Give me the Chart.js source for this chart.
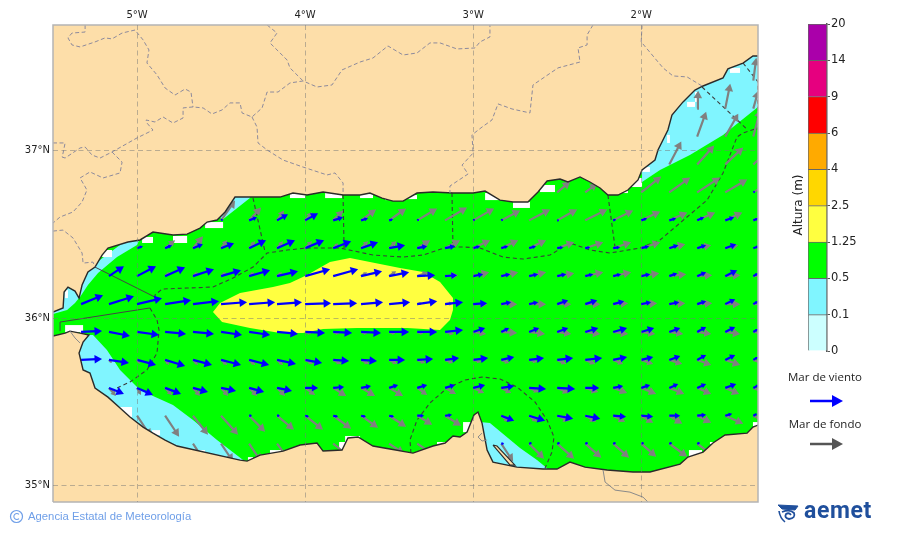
<!DOCTYPE html>
<html><head><meta charset="utf-8">
<style>
html,body{margin:0;padding:0;background:#fff;width:900px;height:533px;overflow:hidden}
#map{position:absolute;left:0;top:0}
#bar{position:absolute;left:780px;top:10px}
.t{position:absolute;white-space:nowrap}
</style>
<script src="https://cdn.jsdelivr.net/npm/chart.js@4"></script>
</head><body>
<canvas id="map" width="900" height="533"></canvas>
<canvas id="bar" width="120" height="350"></canvas>
<div class="t" style="left:798px;top:205px;transform:translate(-50%,-50%) rotate(-90deg);font:12px 'DejaVu Sans';color:#222">Altura (m)</div>
<div class="t" style="left:825px;top:376px;transform:translate(-50%,-50%);font:11.5px 'Open Sans';color:#222">Mar de viento</div>
<div class="t" style="left:825px;top:423px;transform:translate(-50%,-50%);font:11.5px 'Open Sans';color:#222">Mar de fondo</div>
<svg class="t" style="left:805px;top:390px" width="45" height="65">
<line x1="5" y1="11" x2="30" y2="11" stroke="#0000ff" stroke-width="2.5"/><polygon points="27,5 38,11 27,17" fill="#0000ff"/>
<line x1="5" y1="54" x2="30" y2="54" stroke="#555" stroke-width="2.5"/><polygon points="27,48 38,54 27,60" fill="#555"/>
</svg>
<svg class="t" style="left:9px;top:509px" width="16" height="16"><circle cx="7.5" cy="7.5" r="6" fill="none" stroke="#6f9fe8" stroke-width="1.2"/><path d="M10 5.4 A3 3 0 1 0 10 9.6" fill="none" stroke="#6f9fe8" stroke-width="1.1"/></svg>
<div class="t" style="left:28px;top:510px;font:11.3px 'Liberation Sans';color:#6f9fe8">Agencia Estatal de Meteorología</div>
<svg class="t" style="left:776px;top:501px" width="26" height="24" fill="none" stroke="#1f4f9c"><path d="M2 4 L22 5 L19 9 L6 8Z" fill="#1f4f9c"/><path d="M6 11 Q14 8 18 12 Q20 17 13 18 Q8 17 10 13 Q13 11 15 14" stroke-width="1.8"/><path d="M3 10 Q4 17 9 21" stroke-width="1.6"/></svg>
<div class="t" style="left:804px;top:497px;font:bold 23px 'Roboto';color:#1f4f9c;letter-spacing:.6px">aemet</div>
<script>
const COL={land:'#FDDEA9',sea:'#00FF00',low:'#80F5FF',mid:'#FFFF40',white:'#FFFFFF',wind:'#0000FF',swell:'#808080'};
const lonMin=-5.5,lonMax=-1.305,latMin=34.902,latMax=37.749;
const lonTicks=[-5,-4,-3,-2];
const latTicks=[35,36,37];

const coastNorth=[[-5.5,36.036],[-5.44,36.06],[-5.434,36.155],[-5.411,36.185],[-5.369,36.161],[-5.345,36.119],[-5.327,36.197],[-5.292,36.275],[-5.25,36.304],[-5.208,36.376],[-5.173,36.418],[-5.054,36.454],[-4.982,36.466],[-4.905,36.513],[-4.786,36.496],[-4.702,36.501],[-4.625,36.537],[-4.583,36.573],[-4.524,36.585],[-4.476,36.633],[-4.417,36.722],[-4.31,36.722],[-4.149,36.722],[-4.072,36.746],[-3.988,36.734],[-3.893,36.752],[-3.774,36.734],[-3.673,36.734],[-3.614,36.746],[-3.542,36.716],[-3.477,36.698],[-3.417,36.698],[-3.334,36.746],[-3.239,36.752],[-3.12,36.746],[-3,36.746],[-2.929,36.758],[-2.84,36.704],[-2.763,36.693],[-2.674,36.693],[-2.614,36.752],[-2.56,36.818],[-2.483,36.83],[-2.436,36.812],[-2.364,36.842],[-2.305,36.812],[-2.245,36.776],[-2.198,36.734],[-2.138,36.734],[-2.079,36.764],[-2.019,36.824],[-1.995,36.884],[-1.918,36.943],[-1.9,37.003],[-1.841,37.122],[-1.817,37.212],[-1.751,37.29],[-1.68,37.361],[-1.632,37.385],[-1.513,37.433],[-1.484,37.487],[-1.394,37.522],[-1.335,37.564],[-1.305,37.564]];
const coastSouth=[[-5.5,35.893],[-5.428,35.91],[-5.399,35.922],[-5.339,35.91],[-5.286,35.899],[-5.321,35.857],[-5.345,35.791],[-5.321,35.69],[-5.28,35.672],[-5.25,35.582],[-5.173,35.528],[-5.101,35.463],[-5.042,35.409],[-4.964,35.349],[-4.905,35.313],[-4.833,35.272],[-4.762,35.236],[-4.387,35.152],[-4.345,35.146],[-4.268,35.182],[-4.131,35.206],[-4.03,35.242],[-3.929,35.254],[-3.893,35.206],[-3.78,35.212],[-3.745,35.284],[-3.685,35.29],[-3.596,35.236],[-3.495,35.218],[-3.358,35.194],[-3.239,35.236],[-3.167,35.254],[-3.12,35.296],[-3.078,35.29],[-3.036,35.319],[-2.995,35.421],[-2.971,35.439],[-2.947,35.373],[-2.917,35.212],[-2.882,35.14],[-2.739,35.11],[-2.584,35.099],[-2.501,35.099],[-2.424,35.14],[-2.334,35.11],[-2.203,35.093],[-2.049,35.081],[-1.948,35.081],[-1.769,35.128],[-1.722,35.17],[-1.632,35.2],[-1.573,35.254],[-1.501,35.302],[-1.37,35.313],[-1.335,35.349],[-1.305,35.361]];
const lagoonBar=[[-2.882,35.242],[-2.858,35.236],[-2.751,35.122],[-2.78,35.122]];

const band01a=[[-5.5,36.036],[-5.44,36.06],[-5.434,36.155],[-5.411,36.185],[-5.369,36.161],[-5.345,36.119],[-5.369,36.09],[-5.416,36.048],[-5.5,36.024]];
const band01b=[[-5.339,36.125],[-5.292,36.197],[-5.232,36.269],[-5.119,36.364],[-5,36.436],[-4.95,36.55],[-5.35,36.25]];
const band01c=[[-4.417,36.75],[-4.328,36.75],[-4.328,36.716],[-4.494,36.585],[-4.52,36.62]];
const band01d=[[-5.309,35.899],[-5.262,35.899],[-5.179,35.809],[-5.101,35.69],[-5,35.588],[-4.905,35.534],[-4.786,35.481],[-4.667,35.391],[-4.524,35.272],[-4.369,35.152],[-4.369,35.1],[-5.4,35.1],[-5.4,35.899]];
const band01e=[[-2.959,35.379],[-2.9,35.373],[-2.721,35.224],[-2.62,35.152],[-2.555,35.099],[-2.555,35.06],[-2.958,35.06]];
const band01f=[[-1.995,36.812],[-1.888,36.884],[-1.71,36.973],[-1.513,37.093],[-1.305,37.26],[-1.305,37.7],[-1.995,37.7]];
const band125=[[-4.548,36.036],[-4.506,36.09],[-4.387,36.149],[-4.191,36.185],[-4.09,36.209],[-3.988,36.257],[-3.852,36.334],[-3.733,36.358],[-3.614,36.334],[-3.435,36.299],[-3.298,36.275],[-3.197,36.215],[-3.12,36.119],[-3.12,36.048],[-3.138,35.988],[-3.197,35.928],[-3.393,35.94],[-3.691,35.94],[-3.893,35.934],[-4.012,35.91],[-4.149,35.91],[-4.328,35.94],[-4.494,35.976]];

const blankCells=[[-5.208,36.364,-5.149,36.406],[-4.97,36.448,-4.905,36.484],[-4.786,36.448,-4.702,36.49],[-4.595,36.537,-4.488,36.573],[-4.09,36.716,-4,36.746],[-3.881,36.716,-3.78,36.746],[-3.673,36.716,-3.596,36.74],[-3.524,36.704,-3.483,36.722],[-3.405,36.71,-3.334,36.734],[-2.929,36.704,-2.84,36.746],[-2.763,36.657,-2.662,36.693],[-5.428,35.916,-5.321,35.958],[-5.339,35.881,-5.321,35.928],[-5.101,35.409,-5.03,35.469],[-4.911,35.302,-4.863,35.331],[-4.625,35.194,-4.595,35.212],[-4.34,35.152,-4.31,35.17],[-4.209,35.194,-4.137,35.212],[-3.798,35.218,-3.762,35.26],[-3.762,35.26,-3.673,35.296],[-3.215,35.236,-3.167,35.26],[-3.06,35.319,-3.007,35.379],[-2.602,36.752,-2.513,36.794],[-2.108,36.746,-2.079,36.764],[-2.055,36.782,-1.995,36.836],[-1.995,36.872,-1.948,36.901],[-1.846,37.045,-1.829,37.093],[-1.727,37.26,-1.68,37.29],[-1.68,37.29,-1.668,37.349],[-1.472,37.463,-1.412,37.493],[-1.716,35.17,-1.638,35.212],[-1.591,35.248,-1.573,35.26],[-1.335,35.355,-1.305,35.379],[-5.428,36.119,-5.411,36.167]];

const zoneSolid1=[[-5.25,36.304],[-4.881,36.119]];
const zoneSolid2=[[-5.458,35.922],[-5.458,35.976],[-4.923,36.06]];
const zoneCurveWest=[[-4.923,36.06],[-4.881,35.988],[-4.869,35.928],[-4.881,35.791],[-4.941,35.69],[-5.042,35.618],[-5.173,35.558]];
const zoneLong=[[-4.893,36.119],[-4.893,36.137],[-4.851,36.173],[-4.702,36.179],[-4.548,36.185],[-4.429,36.239],[-4.31,36.304],[-4.226,36.388],[-4.107,36.406],[-3.988,36.418],[-3.792,36.418],[-3.596,36.376],[-3.417,36.364],[-3.298,36.376],[-3.155,36.424],[-3.06,36.424],[-2.959,36.418],[-2.822,36.364],[-2.703,36.352],[-2.543,36.376],[-2.424,36.448],[-2.305,36.406],[-2.186,36.388],[-2.007,36.418],[-1.888,36.466],[-1.727,36.603],[-1.608,36.704],[-1.513,36.866],[-1.43,37.081],[-1.394,37.104],[-1.305,37.134]];
const zoneCross1=[[-4.31,36.716],[-4.238,36.394]];
const zoneCross2=[[-3.774,36.734],[-3.768,36.418]];
const zoneCross3=[[-3.126,36.746],[-3.12,36.424]];
const zoneCross4=[[-2.198,36.734],[-2.156,36.424]];
const zoneCross5=[[-1.638,37.379],[-1.365,37.122]];
const zoneCross6=[[-1.394,37.522],[-1.305,37.409],[-1.31,37.122]];
const zoneMelilla=[[-3.37,35.194],[-3.376,35.272],[-3.334,35.391],[-3.257,35.493],[-3.155,35.582],[-3.048,35.63],[-2.947,35.648],[-2.84,35.636],[-2.739,35.588],[-2.632,35.499],[-2.56,35.391],[-2.519,35.29],[-2.531,35.2],[-2.572,35.104]];

const border1=[[-5.309,37.749],[-5.309,37.707],[-5.387,37.701],[-5.411,37.672],[-5.387,37.63],[-5.339,37.618],[-5.25,37.648],[-5.19,37.672],[-5.149,37.666],[-5.089,37.701],[-5.012,37.719],[-4.964,37.66],[-4.929,37.6],[-4.941,37.522],[-4.881,37.451],[-4.833,37.373],[-4.774,37.331],[-4.714,37.367],[-4.679,37.349],[-4.667,37.26]];
const border2=[[-5.446,36.961],[-5.428,36.955],[-5.339,37.015],[-5.309,37.021],[-5.268,36.973],[-5.22,36.955],[-5.149,36.991],[-5,37.075],[-4.905,37.122],[-4.941,37.164],[-4.946,37.182],[-4.893,37.17],[-4.845,37.2],[-4.786,37.164],[-4.726,37.194],[-4.726,37.254],[-4.667,37.26],[-4.607,37.254],[-4.554,37.218],[-4.494,37.242],[-4.447,37.284],[-4.387,37.284],[-4.375,37.224],[-4.316,37.2],[-4.256,37.254],[-4.226,37.349],[-4.161,37.349],[-4.09,37.403],[-4.012,37.415],[-3.929,37.379],[-3.84,37.391],[-3.78,37.481],[-3.673,37.528],[-3.596,37.552],[-3.507,37.624],[-3.417,37.57],[-3.334,37.582],[-3.257,37.642],[-3.197,37.642],[-3.096,37.606],[-2.989,37.612],[-2.959,37.648],[-2.9,37.678],[-2.9,37.749]];
const border3=[[-4.226,37.749],[-4.167,37.701],[-4.209,37.642],[-4.107,37.54],[-4.09,37.493],[-4.012,37.415]];
const border4=[[-4.316,37.2],[-4.286,37.14],[-4.28,37.045],[-4.226,37.003],[-4.131,36.943],[-4.012,36.901],[-3.869,36.854],[-3.822,36.866],[-3.774,36.806],[-3.774,36.746]];
const border5=[[-5.5,37.045],[-5.476,37.045],[-5.428,37.045],[-5.44,36.985],[-5.446,36.961]];
const border6=[[-5.149,36.991],[-5.089,36.931],[-5.101,36.866],[-5.202,36.836],[-5.28,36.872],[-5.339,36.836],[-5.298,36.764],[-5.327,36.693],[-5.381,36.633],[-5.458,36.603],[-5.5,36.567]];
const border7=[[-5.5,36.519],[-5.44,36.525],[-5.381,36.478],[-5.327,36.388],[-5.321,36.328],[-5.262,36.334],[-5.25,36.304]];
const border8=[[-2.287,37.749],[-2.322,37.69],[-2.322,37.63],[-2.376,37.612],[-2.364,37.528],[-2.495,37.493],[-2.644,37.391],[-2.662,37.224],[-2.769,37.248],[-2.852,37.278],[-2.888,37.182],[-2.947,37.14],[-3.007,37.093],[-3,36.985],[-3.066,36.913],[-3.03,36.86],[-3.138,36.788],[-3.138,36.746]];
const border9=[[-1.995,37.749],[-2,37.648],[-1.87,37.493],[-1.811,37.445],[-1.727,37.439],[-1.638,37.385]];
const thinAlgeria=[[-2.227,35.093],[-2.215,35.021],[-2.156,34.973],[-2.067,34.961],[-1.989,34.931],[-1.96,34.902]];
const thinCeuta=[[-5.399,35.922],[-5.369,35.881],[-5.339,35.851]];
const thinMelilla=[[-2.947,35.313],[-2.971,35.29],[-2.947,35.266],[-2.917,35.272]];

const lonGrid=[-5.333,-5.167,-5,-4.833,-4.667,-4.5,-4.333,-4.167,-4,-3.833,-3.667,-3.5,-3.333,-3.167,-3,-2.833,-2.667,-2.5,-2.333,-2.167,-2,-1.833,-1.667,-1.5,-1.333];
const latGrid=[35.25,35.417,35.583,35.75,35.917,36.083,36.25,36.417,36.583,36.75,36.917,37.083,37.25,37.417];
const ARROW_UNIT=0.00595;

/* each row: [column index in lonGrid, eastward, northward] */
const wind0=[[15,3,0],[16,3,1],[17,3,1],[18,3,1],[19,3,1],[20,3,1],[21,3,1],[22,3,1]];
const wind1=[[6,3,0],[7,3,0],[8,4,-1],[9,5,-1],[10,5,-1],[11,5,-1],[12,7,0],[13,7,1],[15,13,-5],[16,16,-5],[17,16,-3],[18,15,-3],[19,13,-1],[20,12,-1],[21,11,0],[22,9,1],[23,7,2],[24,4,2]];
const wind2=[[1,15,-6],[2,16,-7],[3,16,-6],[4,15,-4],[5,15,-3],[6,15,-4],[7,15,-3],[8,13,0],[9,11,1],[10,10,2],[11,9,3],[12,10,3],[13,10,3],[14,12,3],[15,13,2],[16,17,-1],[17,18,-1],[18,14,0],[19,10,2],[20,9,3],[21,9,4],[22,9,4],[23,11,4],[24,6,3]];
const wind3=[[0,21,1],[1,20,-3],[2,19,-5],[3,20,-6],[4,19,-5],[5,20,-5],[6,20,-5],[7,19,-4],[8,17,-3],[9,16,-1],[10,16,-1],[11,16,0],[12,16,1],[13,14,2],[14,15,2],[15,13,3],[16,15,2],[17,16,2],[18,17,2],[19,14,3],[20,12,3],[21,11,4],[22,9,5],[23,10,5],[24,5,3]];
const wind4=[[0,21,1],[1,21,-4],[2,22,-3],[3,21,-2],[4,21,-2],[5,21,-3],[6,21,-3],[7,21,-2],[8,20,-1],[9,19,-1],[10,20,-1],[11,20,0],[12,20,0],[13,18,2],[14,12,4],[15,8,4],[16,10,4],[17,11,4],[18,13,4],[19,14,4],[20,13,4],[21,11,4],[22,9,5],[23,10,5],[24,5,3]];
const wind5=[[0,22,9],[1,25,8],[2,25,6],[3,26,4],[4,26,3],[5,26,2],[6,26,2],[7,25,2],[8,26,1],[9,24,1],[10,22,2],[11,21,2],[12,20,3],[13,18,2],[14,14,1],[15,10,2],[16,9,2],[17,11,4],[18,12,4],[19,11,3],[20,10,2],[21,10,2],[22,9,3],[23,10,5],[24,5,3]];
const wind6=[[1,15,10],[2,19,10],[3,20,9],[4,21,7],[5,20,6],[6,21,6],[7,21,5],[8,25,7],[9,25,7],[10,21,5],[11,20,4],[12,18,1],[13,12,1],[14,10,2],[15,9,2],[16,9,2],[17,9,2],[18,8,2],[19,8,2],[20,9,2],[21,8,3],[22,9,4],[23,12,6],[24,5,3]];
const wind7=[[2,6,2],[3,7,3],[4,10,4],[5,13,5],[6,17,8],[7,18,8],[8,19,8],[9,18,7],[10,17,6],[11,16,3],[12,10,2],[13,10,2],[14,7,2],[15,7,2],[16,7,2],[17,6,1],[18,5,1],[19,7,1],[20,8,2],[21,9,3],[22,9,3],[23,11,4],[24,6,2]];
const wind8=[[5,2,1],[6,8,3],[7,11,6],[8,13,7],[9,10,3],[10,7,2],[11,4,1],[12,2,1],[14,2,1],[15,2,1],[17,2,0],[19,3,1],[20,6,2],[21,7,2],[22,7,3],[23,9,3],[24,5,2]];
const wind9=[[24,2,1]];

const swell0=[[4,12,-18],[5,12,-18],[6,12,-18],[7,12,-16],[8,14,-13],[9,15,-12],[11,15,-10],[12,15,-10],[15,12,-18],[16,15,-15],[17,17,-15],[18,16,-14],[19,16,-14],[20,15,-13],[21,18,-13],[22,16,-12]];
const swell1=[[2,14,-21],[3,14,-21],[4,15,-19],[5,17,-19],[6,16,-16],[7,17,-14],[8,18,-14],[9,18,-13],[10,17,-12],[11,17,-11],[12,15,-9],[13,16,-10],[15,8,-6],[16,8,-6],[17,13,-5],[18,11,-6],[19,12,-6],[20,12,-7],[21,13,-8],[22,14,-7],[23,18,-8],[24,12,-6]];
const swell2=[[1,7,-8],[2,4,-7],[3,7,-7],[4,7,-8],[5,7,-8],[6,8,-8],[7,8,-8],[8,10,-7],[9,13,-8],[10,14,-8],[11,14,-8],[12,10,-7],[13,11,-6],[14,11,-5],[15,10,-5],[16,10,-4],[17,12,-5],[18,13,-4],[19,14,-5],[20,15,-6],[21,15,-6],[22,14,-6],[23,14,-6],[24,14,-6]];
const swell3=[[1,3,-3],[2,3,-4],[3,4,-5],[4,5,-5],[5,6,-5],[6,6,-5],[7,6,-5],[8,8,-4],[9,8,-4],[10,8,-4],[11,8,-4],[12,8,-3],[13,8,-3],[14,8,-2],[15,8,-3],[16,8,-2],[17,9,-4],[18,10,-4],[19,10,-4],[20,12,-4],[21,13,-4],[22,14,-5],[23,15,-5],[24,12,-4]];
const swell4=[[8,6,-2],[9,6,-2],[10,6,-2],[11,6,-2],[12,6,-2],[13,9,-2],[14,13,-2],[15,16,-1],[16,16,-2],[17,14,-2],[18,15,-2],[19,15,-2],[20,14,-2],[21,14,-2],[22,14,-2],[23,15,-2],[24,14,-2]];
const swell5=[[12,5,1],[13,8,1],[14,14,0],[15,16,0],[16,17,0],[17,14,0],[18,15,0],[19,15,1],[20,16,1],[21,16,1],[22,15,1],[23,15,0],[24,14,1]];
const swell6=[[3,5,4],[4,5,4],[5,5,4],[6,5,4],[7,5,4],[10,6,4],[11,7,5],[12,11,4],[13,13,1],[14,16,4],[15,17,4],[16,17,4],[17,17,3],[18,18,4],[19,18,4],[20,18,3],[21,17,2],[22,15,1],[23,15,1],[24,12,1]];
const swell7=[[3,10,8],[4,10,12],[5,6,8],[6,6,7],[7,6,7],[8,7,7],[9,5,5],[10,7,7],[11,7,7],[12,13,8],[13,15,8],[14,17,8],[15,17,8],[16,17,8],[17,17,6],[18,18,6],[19,18,6],[20,19,6],[21,16,4],[22,14,3],[23,13,3]];
const swell8=[[5,14,20],[6,12,13],[7,7,10],[8,7,8],[9,10,10],[10,15,11],[11,17,12],[12,20,12],[13,22,13],[14,21,12],[15,19,10],[16,21,11],[17,20,11],[18,22,11],[19,20,10],[20,19,9],[21,18,8],[22,18,8],[23,17,8],[24,15,7]];
const swell9=[[17,13,11],[18,12,9],[20,20,16],[21,21,15],[22,23,15],[23,22,13],[24,20,12]];
const swell10=[[21,12,23],[22,17,19],[23,18,17],[24,18,16]];
const swell11=[[22,9,25],[23,13,23],[24,7,27]];
const swell12=[[22,1,18],[23,5,25],[24,5,18]];
const swell13=[[24,3,23]];

const windRows=[wind0,wind1,wind2,wind3,wind4,wind5,wind6,wind7,wind8,wind9];
const swellRows=[swell0,swell1,swell2,swell3,swell4,swell5,swell6,swell7,swell8,swell9,swell10,swell11,swell12,swell13];

const pts=a=>a.map(p=>({x:p[0],y:p[1]}));
const datasets=[];
const add=d=>{d.order=1000-datasets.length;d.showLine=true;d.pointRadius=d.pointRadius??0;datasets.push(d);};
const poly=(a,c)=>add({data:pts(a),fill:'shape',backgroundColor:c,borderWidth:0,borderColor:c});
const line=(a,c,w,dash)=>add({data:pts(a),fill:false,borderColor:c,borderWidth:w,borderDash:dash||[]});

poly([[lonMin,latMin],[lonMax,latMin],[lonMax,latMax],[lonMin,latMax]],COL.sea);
[band01a,band01b,band01c,band01d,band01e,band01f].forEach(b=>poly(b,COL.low));
poly(band125,COL.mid);
blankCells.forEach(c=>poly([[c[0],c[1]],[c[2],c[1]],[c[2],c[3]],[c[0],c[3]]],COL.white));

function arrowSet(rows,color){
  const data=[];
  rows.forEach((row,i)=>row.forEach(([k,u,v])=>{
    const len=Math.hypot(u,v), head=Math.min(5,len*0.32), f=Math.max(0,1-head/len);
    const x=lonGrid[k], y=latGrid[i];
    data.push({x,y,h:0,rot:0});
    data.push({x:x+u*f*ARROW_UNIT,y:y+v*f*ARROW_UNIT,h:head,rot:Math.atan2(u,v)*180/Math.PI});
    data.push({x:null,y:null,h:0,rot:0});
  }));
  add({data,fill:false,borderColor:color,borderWidth:2.2,backgroundColor:color,spanGaps:false,
    pointStyle:'triangle',pointBorderWidth:0,pointBackgroundColor:color,
    pointRadius:c=>c.raw?c.raw.h:0,pointRotation:c=>c.raw?c.raw.rot:0});
}
const dashDark='#3c3c3c';
[zoneCurveWest,zoneLong,zoneCross1,zoneCross2,zoneCross3,zoneCross4,zoneCross5,zoneCross6,zoneMelilla].forEach(z=>line(z,dashDark,1.1,[4,3]));
[zoneSolid1,zoneSolid2].forEach(z=>line(z,'#444',1));
arrowSet(swellRows,COL.swell);
arrowSet(windRows,COL.wind);
poly([[lonMin,latMax],...coastNorth,[lonMax,latMax]],COL.land);
poly([[lonMin,latMin],...coastSouth,[lonMax,latMin]],COL.land);
poly(lagoonBar,COL.land);
line(coastNorth,'#2a2a2a',1.4);
line(coastSouth,'#2a2a2a',1.4);
line([...lagoonBar,lagoonBar[0]],'#2a2a2a',1.1);
[border1,border2,border3,border4,border5,border6,border7,border8,border9].forEach(b=>line(b,'#8d8a9c',1,[4,2.5]));
[thinAlgeria,thinCeuta,thinMelilla].forEach(b=>line(b,'#8a8a8a',1));
const frame=[[lonMin,latMin],[lonMax,latMin],[lonMax,latMax],[lonMin,latMax],[lonMin,latMin]];
add({data:pts(frame),fill:false,borderColor:'#b4b4b4',borderWidth:1.5,clip:false});

const tickFont={family:"'DejaVu Sans'",size:10};
new Chart(document.getElementById('map'),{
  type:'scatter',
  data:{datasets},
  options:{responsive:false,animation:false,devicePixelRatio:1,
    layout:{padding:{left:0,top:0,right:142,bottom:31}},
    plugins:{legend:{display:false},tooltip:{enabled:false}},
    events:[],
    scales:{
      x:{type:'linear',position:'top',min:lonMin,max:lonMax,
        afterBuildTicks:s=>{s.ticks=lonTicks.map(v=>({value:v}));},
        afterFit:s=>{s.height=25;},
        ticks:{color:'#222',font:tickFont,padding:4,maxRotation:0,callback:v=>Math.abs(v)+'°W'},
        grid:{z:1,color:'rgba(120,120,120,.5)',lineWidth:1,drawTicks:false},
        border:{display:false,dash:[5,3.5]}},
      y:{type:'linear',position:'left',min:latMin,max:latMax,
        afterBuildTicks:s=>{s.ticks=latTicks.map(v=>({value:v}));},
        afterFit:s=>{s.width=53;},
        ticks:{color:'#222',font:tickFont,padding:3,callback:v=>v+'°N'},
        grid:{z:1,color:'rgba(120,120,120,.5)',lineWidth:1,drawTicks:false},
        border:{display:false,dash:[5,3.5]}}
    }
  }
});

const levelLabels=['0','0.1','0.5','1.25','2.5','4','6','9','14','20'];
const levelColors=['#CCFFFF','#80F5FF','#00FF00','#FFFF40','#FFD700','#FFAA00','#FF0000','#E6007F','#AA00AA'];
const levelSpan=[1,1,1,1,1,1,1,1,1];
new Chart(document.getElementById('bar'),{
  type:'bar',
  data:{labels:[''],datasets:levelColors.map((c,i)=>({data:[levelSpan[i]],backgroundColor:c,borderColor:'#666',borderWidth:1,barPercentage:1,categoryPercentage:1,stack:'s'}))},
  options:{responsive:false,animation:false,devicePixelRatio:1,events:[],
    layout:{padding:{left:28,top:14,right:0,bottom:9}},
    plugins:{legend:{display:false},tooltip:{enabled:false}},
    scales:{
      x:{display:false,stacked:true},
      y:{position:'right',stacked:true,min:0,max:9,afterFit:s=>{s.width=73;},
        ticks:{stepSize:1,padding:1,color:'#222',font:{family:"'DejaVu Sans'",size:11.5},callback:v=>levelLabels[v]},
        grid:{drawOnChartArea:false,drawTicks:true,tickLength:3,tickColor:'#555'},
        border:{display:true,color:'#555',width:1.5}}
    }
  }
});
</script>
</body></html>
